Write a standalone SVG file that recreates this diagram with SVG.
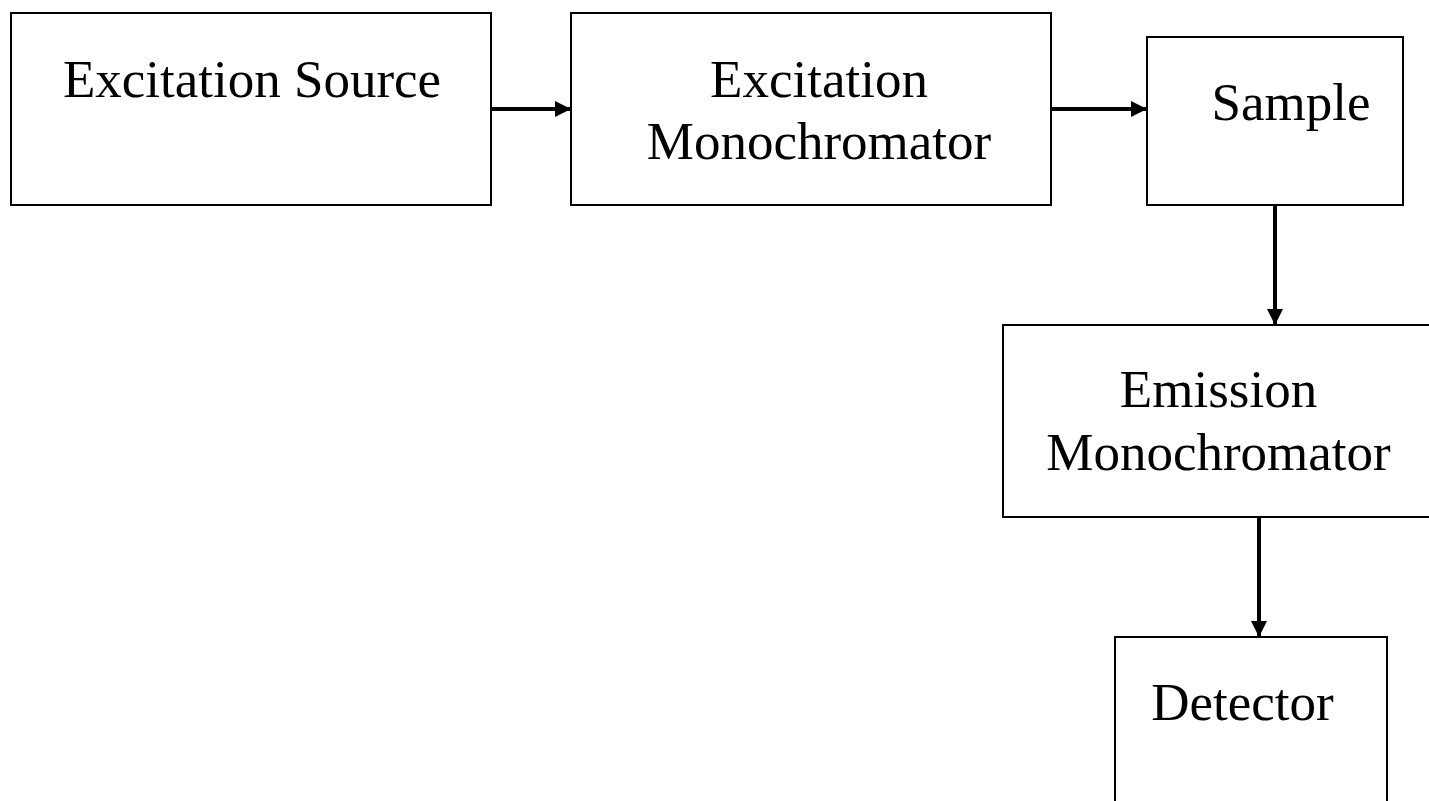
<svg xmlns="http://www.w3.org/2000/svg" width="1429" height="801" viewBox="0 0 1429 801">
<style>
.box{fill:#fff;stroke:#000;stroke-width:2}
.t{font-family:"Liberation Serif","Times New Roman",serif;font-size:53px;fill:#000;text-anchor:middle}
.c{stroke:#000;stroke-width:4;fill:none}
</style>
<defs>
<marker id="ah" markerUnits="userSpaceOnUse" markerWidth="16" markerHeight="16" refX="16" refY="8" orient="auto">
<path d="M0,0 L16,8 L0,16 Z" fill="#000"/>
</marker>
</defs>
<rect width="1429" height="801" fill="#fff"/>
<g id="excitation-source">
<rect class="box" x="11" y="13" width="480" height="192"/>
<text class="t" x="252" y="97">Excitation Source</text>
</g>
<g id="excitation-monochromator">
<rect class="box" x="571" y="13" width="480" height="192"/>
<text class="t" x="819" y="97">Excitation</text>
<text class="t" x="819" y="159">Monochromator</text>
</g>
<g id="sample">
<rect class="box" x="1147" y="37" width="256" height="168"/>
<text class="t" x="1291" y="120">Sample</text>
</g>
<g id="emission-monochromator">
<rect class="box" x="1003" y="325" width="440" height="192"/>
<text class="t" x="1218.5" y="407">Emission</text>
<text class="t" x="1218.5" y="470">Monochromator</text>
</g>
<g id="detector">
<rect class="box" x="1115" y="637" width="272" height="180"/>
<text class="t" x="1242.5" y="720">Detector</text>
</g>
<g id="connectors">
<line class="c" x1="491" y1="109" x2="571" y2="109" marker-end="url(#ah)"/>
<line class="c" x1="1051" y1="109" x2="1147" y2="109" marker-end="url(#ah)"/>
<line class="c" x1="1275" y1="205" x2="1275" y2="325" marker-end="url(#ah)"/>
<line class="c" x1="1259" y1="517" x2="1259" y2="637" marker-end="url(#ah)"/>
</g>
</svg>
